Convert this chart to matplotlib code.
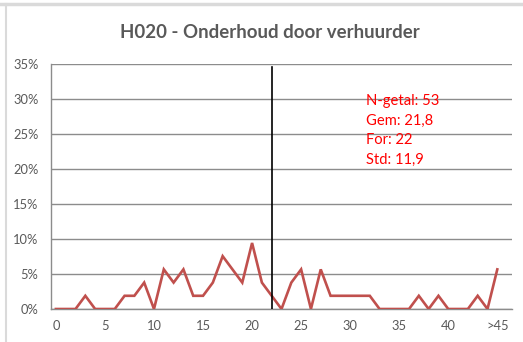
import numpy as np
import matplotlib.pyplot as plt
from matplotlib.lines import Line2D

# respondents per answer value (0 .. >45), N = 53
categories = [str(i) for i in range(46)] + ['']
counts = [0, 0, 0, 1, 0, 0, 0, 1, 1, 2,
          0, 3, 2, 3, 1, 1, 2, 4, 3, 2,
          5, 2, 1, 0, 2, 3, 0, 3, 1, 1,
          1, 1, 1, 0, 0, 0, 0, 1, 0, 1,
          0, 0, 0, 1, 0, 3]
n_total = 53
tick_labels = ['0', '5', '10', '15', '20', '25', '30', '35', '40', '>45']
stats_lines = ['N-getal: 53', 'Gem: 21,8', 'For: 22', 'Std: 11,9']
marker_x = 22

plt.rcParams['font.family'] = ['Lato', 'DejaVu Sans']

share = np.array(counts) / n_total

fig = plt.figure(figsize=(5.23, 3.42), dpi=100)
ax = fig.add_axes([0.0975, 0.0965, 0.8815, 0.7164])

ax.plot(np.arange(len(counts)), share, color='#C0504D', linewidth=1.9,
        solid_joinstyle='miter', zorder=3)
ax.axvline(marker_x, ymin=0, ymax=0.988, color='black', linewidth=1.2, zorder=4)

ax.set_xlim(-0.5, len(categories) - 0.5)
ax.set_ylim(0, 0.35)
ax.set_yticks(np.arange(0, 0.351, 0.05))
ax.set_yticklabels([f'{int(round(v * 100))}%' for v in np.arange(0, 0.351, 0.05)])
ax.set_xticks(np.arange(0, 46, 5))
ax.set_xticklabels(tick_labels)

ax.grid(axis='y', color='#8C8C8C', linewidth=1.0, zorder=1)
ax.set_axisbelow(True)
for side in ['top', 'right']:
    ax.spines[side].set_visible(False)
ax.spines['left'].set_color('#8C8C8C')
ax.spines['bottom'].set_color('#8C8C8C')
ax.spines['left'].set_linewidth(1.0)
ax.spines['bottom'].set_linewidth(1.0)
ax.tick_params(axis='both', length=0, labelsize=9.3, labelcolor='#595959')
ax.tick_params(axis='y', pad=9)
ax.tick_params(axis='x', pad=8)

fig.text(0.516, 0.905, 'H020 - Onderhoud door verhuurder', fontsize=13.4,
         fontweight='bold', color='#595959', ha='center', va='center')

for i, line in enumerate(stats_lines):
    fig.text(0.700, 0.705 - i * 0.0575, line, color='#FF0000', fontsize=10.6,
             va='center', ha='left')

# outer frame of the chart object
fig.add_artist(Line2D([0.0, 1.0], [0.988, 0.988], transform=fig.transFigure,
                      color='#DADADA', linewidth=2.5))
fig.add_artist(Line2D([0.0115, 0.0115], [0.0, 0.988], transform=fig.transFigure,
                      color='#DADADA', linewidth=1.5))

fig.savefig('out.png', dpi=100)
